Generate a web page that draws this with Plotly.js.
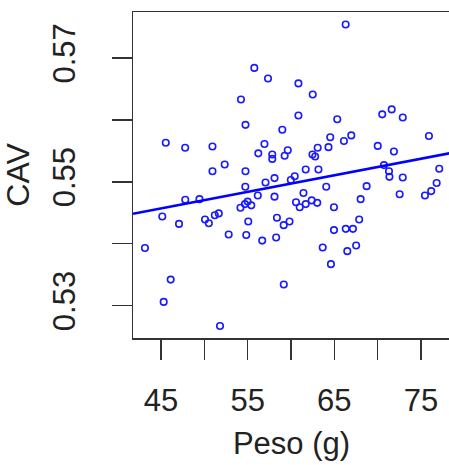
<!DOCTYPE html>
<html>
<head>
<meta charset="utf-8">
<script src="https://cdn.plot.ly/plotly-3.0.1.min.js"></script>
<style>
html,body{margin:0;padding:0;background:#fff;overflow:hidden;}
#chart{width:450px;height:465px;}
</style>
</head>
<body>
<div id="chart"></div>
<script>
// Peso (g) values
const peso = [
66.31,55.77,57.35,60.86,62.51,54.23,60.86,54.75,59.00,65.34,
70.53,71.62,72.90,75.92,64.53,66.11,66.96,45.55,47.79,50.94,
56.94,56.23,57.84,57.84,59.27,59.63,63.08,62.48,62.79,64.33,
70.01,71.88,52.35,50.94,54.75,61.70,63.17,77.11,70.73,71.31,
71.36,72.90,58.10,60.43,59.98,57.06,54.73,64.07,68.73,76.81,
76.18,75.46,72.54,47.80,49.44,56.17,58.10,61.44,60.58,61.01,
61.70,62.39,63.03,68.04,64.96,54.17,54.69,55.00,55.42,45.15,
47.08,50.08,50.52,51.21,51.67,55.07,58.38,59.16,59.83,67.87,
52.81,54.84,56.68,58.29,64.96,66.32,67.15,43.15,63.66,66.50,
67.52,64.61,46.12,59.17,45.31,51.81
];
// CAV values
const cav = [
0.5754,0.5684,0.5667,0.5659,0.5641,0.5633,0.5607,0.5592,0.5584,0.5601,
0.5609,0.5617,0.5604,0.5574,0.5572,0.5566,0.5575,0.5563,0.5555,0.5557,
0.5561,0.5546,0.5544,0.5537,0.5542,0.5551,0.5555,0.5544,0.5541,0.5556,
0.5558,0.5549,0.5528,0.5517,0.5517,0.5520,0.5520,0.5521,0.5527,0.5517,
0.5508,0.5507,0.5506,0.5509,0.5503,0.5499,0.5492,0.5492,0.5493,0.5498,
0.5485,0.5478,0.5480,0.5471,0.5472,0.5478,0.5476,0.5482,0.5467,0.5459,
0.5464,0.5470,0.5466,0.5472,0.5459,0.5458,0.5464,0.5468,0.5462,0.5444,
0.5432,0.5439,0.5433,0.5446,0.5449,0.5436,0.5442,0.5430,0.5436,0.5439,
0.5415,0.5414,0.5405,0.5410,0.5422,0.5424,0.5424,0.5393,0.5394,0.5388,
0.5397,0.5367,0.5342,0.5334,0.5306,0.5267
];
const xTickVals = [45,50,55,60,65,70,75];
const xTickText = ['45','','55','','65','','75'];
const yTickVals = [0.53,0.54,0.55,0.56,0.57];
const yTickText = ['0.53','','0.55','','0.57'];
const xRange = [41.77, 78.35];
const yRange = [0.52477, 0.57743];

// least squares fit (abline(lm(cav ~ peso)))
const n = peso.length;
const mx = peso.reduce((a,b)=>a+b,0)/n;
const my = cav.reduce((a,b)=>a+b,0)/n;
let sxy=0, sxx=0;
for(let i=0;i<n;i++){ sxy+=(peso[i]-mx)*(cav[i]-my); sxx+=(peso[i]-mx)*(peso[i]-mx); }
const slope = sxy/sxx;
const intercept = my - slope*mx;

const font = 'Liberation Sans, Arial, Helvetica, sans-serif';
const axCol = '#333';

const traces = [
  {
    x: peso, y: cav, type:'scatter', mode:'markers',
    marker:{symbol:'circle-open', size:6.5, color:'#1a1aff', line:{width:1.6, color:'#1a1aff'}},
    hoverinfo:'skip'
  },
  {
    x: xRange, y: xRange.map(v=>intercept+slope*v), type:'scatter', mode:'lines',
    line:{color:'#0000ff', width:2.6}, hoverinfo:'skip'
  }
];

const layout = {
  width:450, height:465,
  margin:{l:133, r:0, t:12, b:127, pad:0},
  paper_bgcolor:'#fff', plot_bgcolor:'#fff',
  showlegend:false,
  font:{family:font, color:'#222', size:31},
  xaxis:{
    range:xRange, tickmode:'array', tickvals:xTickVals, ticktext:xTickText,
    ticks:'outside', ticklen:20, tickwidth:1.5, tickcolor:axCol,
    showline:true, mirror:true, linecolor:axCol, linewidth:1.5,
    showgrid:false, zeroline:false, automargin:false,
    tickfont:{family:font, size:31, color:'#222'},
    ticklabelstandoff:14,
    title:{text:'Peso (g)', font:{family:font, size:31, color:'#222'}, standoff:15}
  },
  yaxis:{
    range:yRange, tickmode:'array', tickvals:yTickVals, ticktext:yTickText,
    ticks:'outside', ticklen:20, tickwidth:1.5, tickcolor:axCol,
    showline:true, mirror:true, linecolor:axCol, linewidth:1.5,
    showgrid:false, zeroline:false, automargin:false,
    tickangle:-90,
    tickfont:{family:font, size:31, color:'#222'},
    ticklabelstandoff:24,
    title:{text:'CAV', font:{family:font, size:32, color:'#222'}, standoff:8}
  }
};

Plotly.newPlot('chart', traces, layout, {displayModeBar:false, staticPlot:true});
</script>
</body>
</html>
